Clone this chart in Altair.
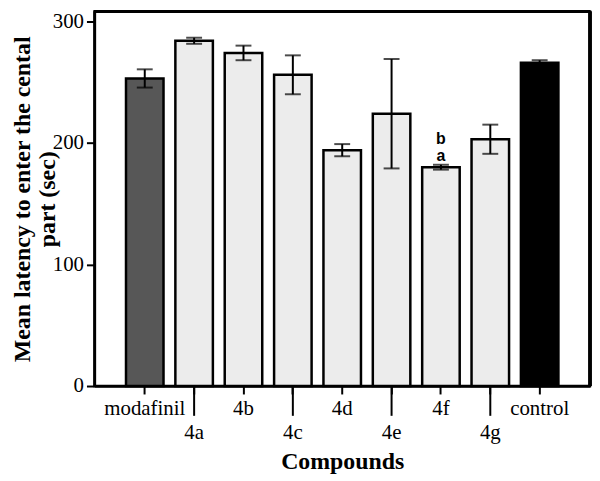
import altair as alt
import pandas as pd

compounds = ["modafinil", "4a", "4b", "4c", "4d", "4e", "4f", "4g", "control"]
means = [253, 284, 274, 256, 194, 224, 180, 203, 266]
errors = [7.5, 2.5, 6, 16, 5, 45, 2, 12, 2]
fills = ["#575757", "#ececec", "#ececec", "#ececec", "#ececec", "#ececec", "#ececec", "#ececec", "#000000"]
lower_row = ["4a", "4c", "4e", "4g"]
annot_compound = "4f"
annot_lower = "a"
annot_upper = "b"
y_max = 308

W, H = 499, 377

df = pd.DataFrame({"compound": compounds, "mean": means, "err": errors})
df["lo"] = df["mean"] - df["err"]
df["hi"] = df["mean"] + df["err"]

serif = "Liberation Serif"
lower_list = "[" + ",".join("'" + c + "'" for c in lower_row) + "]"
is_lower_value = "indexof(" + lower_list + ", datum.value) >= 0"

x_scale = alt.Scale(paddingInner=0.24, paddingOuter=0.64)
y_scale = alt.Scale(domain=[0, y_max], nice=False, zero=True)

x = alt.X(
    "compound:N",
    sort=compounds,
    scale=x_scale,
    axis=alt.Axis(
        title="Compounds",
        labelAngle=0,
        labelFont=serif,
        labelFontSize=21,
        labelColor="black",
        labelPadding=4,
        labelLineHeight=24,
        labelExpr=is_lower_value + " ? ['', datum.label] : datum.label",
        tickSize=8,
        tickWidth=2,
        tickColor="black",
        domain=True,
        domainColor="black",
        domainWidth=2.5,
        titleFont=serif,
        titleFontSize=24,
        titleFontWeight="bold",
        titleColor="black",
        titlePadding=7,
    ),
)

bars = alt.Chart(df).mark_bar(stroke="black", strokeWidth=2.5).encode(
    x=x,
    y=alt.Y(
        "mean:Q",
        scale=y_scale,
        axis=alt.Axis(
            values=[0, 100, 200, 300],
            title=["Mean latency to enter the cental", "part (sec)"],
            grid=False,
            domain=True,
            domainColor="black",
            domainWidth=2.5,
            tickSize=8,
            tickWidth=2,
            tickColor="black",
            labelFont=serif,
            labelFontSize=21,
            labelColor="black",
            labelPadding=3,
            titleFont=serif,
            titleFontSize=24,
            titleFontWeight="bold",
            titleColor="black",
            titlePadding=-7,
            titleLineHeight=25,
        ),
    ),
    color=alt.Color("compound:N", scale=alt.Scale(domain=compounds, range=fills), legend=None),
)

# frame: top edge at the y-domain maximum, right edge at the plot's right side
top_edge = alt.Chart(df).mark_rule(color="black", strokeWidth=2.5).encode(
    y=alt.datum(y_max, type="quantitative"),
)
right_edge = alt.Chart(df).mark_rule(color="black", strokeWidth=2.5).encode(
    x=alt.value(W),
    y=alt.value(0),
    y2=alt.value(H),
)

long_ticks = alt.Chart(df).transform_filter(
    alt.FieldOneOfPredicate(field="compound", oneOf=lower_row)
).mark_rule(color="black", strokeWidth=2).encode(
    x=alt.X("compound:N", sort=compounds),
    y=alt.value(H),
    y2=alt.value(H + 30),
)

rules = alt.Chart(df).mark_rule(color="black", strokeWidth=2).encode(
    x=alt.X("compound:N", sort=compounds),
    y=alt.Y("lo:Q", scale=y_scale),
    y2="hi:Q",
)
caps_hi = alt.Chart(df).mark_tick(color="black", thickness=2, size=16).encode(
    x=alt.X("compound:N", sort=compounds),
    y=alt.Y("hi:Q", scale=y_scale),
)
caps_lo = alt.Chart(df).mark_tick(color="black", thickness=2, size=16).encode(
    x=alt.X("compound:N", sort=compounds),
    y=alt.Y("lo:Q", scale=y_scale),
)

ann = df[df["compound"] == annot_compound]
text_a = alt.Chart(ann).mark_text(
    text=annot_lower, font="Liberation Sans", fontSize=16, fontWeight="bold", baseline="bottom", dy=-1, color="black"
).encode(x=alt.X("compound:N", sort=compounds), y=alt.Y("hi:Q", scale=y_scale))
text_b = alt.Chart(ann).mark_text(
    text=annot_upper, font="Liberation Sans", fontSize=16, fontWeight="bold", baseline="bottom", dy=-18, color="black"
).encode(x=alt.X("compound:N", sort=compounds), y=alt.Y("hi:Q", scale=y_scale))

chart = alt.layer(bars, top_edge, right_edge, long_ticks, rules, caps_hi, caps_lo, text_a, text_b).properties(
    width=W,
    height=H,
    autosize=alt.AutoSizeParams(type="none"),
    padding={"left": 87, "top": 2, "right": 2, "bottom": 92},
    background="white",
).configure_view(stroke="black", strokeWidth=2.5)

chart.save("out.html", embed_options={"renderer": "svg", "actions": False})
